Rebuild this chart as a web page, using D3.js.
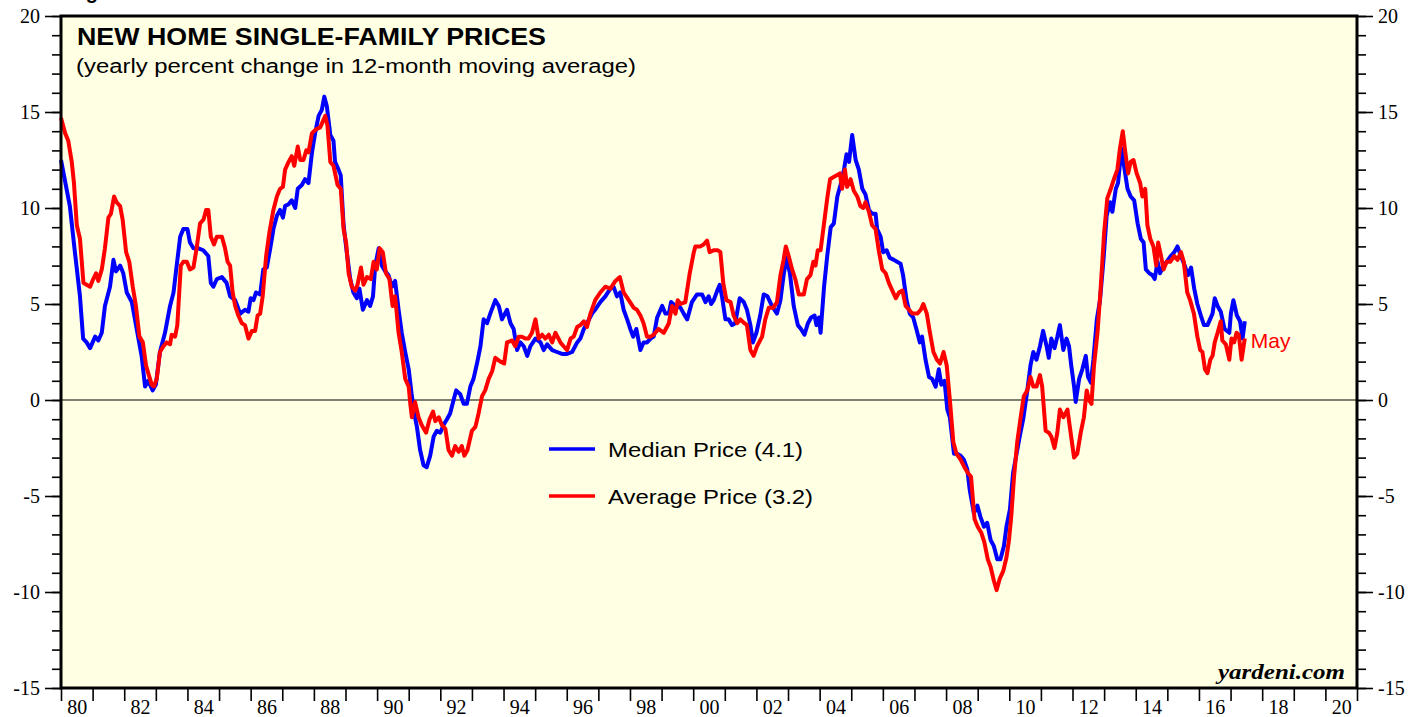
<!DOCTYPE html>
<html>
<head>
<meta charset="utf-8">
<script src="https://cdn.jsdelivr.net/npm/d3@7"></script>
<style>
  body { margin: 0; background: #ffffff; }
  svg { display: block; }
</style>
</head>
<body>
<div id="chart"></div>
<script>
// New home single-family prices, yearly % change in 12-month moving average
// points are [decimal year, percent]
const medianPrice = [
  [1980.00, 12.5], [1980.28, 10.1], [1980.44, 7.7], [1980.60, 5.4], [1980.70, 3.2], [1980.81, 3.0],
  [1980.92, 2.7], [1981.08, 3.3], [1981.18, 3.1], [1981.29, 3.5], [1981.39, 4.9], [1981.55, 5.9],
  [1981.66, 7.3], [1981.74, 6.7], [1981.87, 7.0], [1981.97, 6.6], [1982.08, 5.6], [1982.24, 5.1],
  [1982.34, 4.2], [1982.45, 3.2], [1982.55, 2.3], [1982.66, 0.7], [1982.76, 1.0], [1982.90, 0.5],
  [1983.00, 0.8], [1983.13, 2.5], [1983.29, 3.5], [1983.45, 4.9], [1983.56, 5.6], [1983.66, 7.0],
  [1983.77, 8.5], [1983.87, 8.9], [1984.00, 8.9], [1984.08, 8.2], [1984.19, 7.9], [1984.35, 7.9],
  [1984.50, 7.8], [1984.66, 7.5], [1984.74, 6.1], [1984.82, 5.9], [1984.93, 6.3], [1985.09, 6.4],
  [1985.24, 6.1], [1985.35, 5.4], [1985.51, 5.2], [1985.67, 4.5], [1985.82, 4.7], [1985.93, 4.6],
  [1986.00, 5.3], [1986.09, 5.2], [1986.17, 5.6], [1986.30, 5.5], [1986.40, 6.8], [1986.51, 6.9],
  [1986.62, 7.9], [1986.72, 8.9], [1986.83, 9.6], [1986.93, 9.9], [1987.02, 9.5], [1987.09, 10.1],
  [1987.20, 10.2], [1987.30, 10.4], [1987.41, 10.0], [1987.49, 11.0], [1987.62, 11.2], [1987.72, 11.5],
  [1987.83, 11.3], [1987.94, 12.9], [1988.04, 13.9], [1988.15, 14.8], [1988.25, 15.1], [1988.33, 15.8],
  [1988.41, 15.3], [1988.52, 13.8], [1988.62, 13.5], [1988.67, 12.4], [1988.78, 12.0], [1988.85, 11.7],
  [1988.94, 9.1], [1989.04, 7.7], [1989.15, 6.3], [1989.25, 5.6], [1989.36, 5.3], [1989.44, 5.8],
  [1989.55, 4.7], [1989.68, 5.2], [1989.78, 4.9], [1989.87, 5.4], [1989.94, 7.0], [1990.05, 7.9],
  [1990.15, 7.0], [1990.26, 6.7], [1990.36, 6.5], [1990.47, 5.9], [1990.57, 6.2], [1990.68, 4.7],
  [1990.78, 3.5], [1990.89, 2.5], [1991.00, 1.6], [1991.10, 0.2], [1991.20, -0.9], [1991.26, -1.4],
  [1991.36, -2.6], [1991.47, -3.4], [1991.57, -3.5], [1991.68, -2.9], [1991.79, -1.9], [1991.89, -1.6],
  [1992.00, -1.7], [1992.10, -1.3], [1992.21, -1.0], [1992.31, -0.7], [1992.42, 0.0], [1992.50, 0.5],
  [1992.63, 0.3], [1992.74, -0.2], [1992.84, -0.2], [1992.95, 0.7], [1993.05, 1.1], [1993.16, 1.9],
  [1993.27, 2.8], [1993.37, 4.2], [1993.48, 4.0], [1993.58, 4.5], [1993.74, 5.2], [1993.85, 4.9],
  [1993.95, 4.2], [1994.11, 4.7], [1994.22, 4.0], [1994.32, 3.7], [1994.43, 2.6], [1994.53, 3.0],
  [1994.64, 2.8], [1994.75, 2.3], [1994.85, 2.8], [1995.01, 3.2], [1995.17, 3.0], [1995.27, 2.6],
  [1995.38, 2.9], [1995.54, 2.6], [1995.69, 2.5], [1995.85, 2.4], [1996.01, 2.4], [1996.17, 2.5],
  [1996.33, 3.0], [1996.43, 3.2], [1996.54, 3.7], [1996.64, 4.0], [1996.80, 4.5], [1996.90, 4.7],
  [1997.06, 5.1], [1997.22, 5.4], [1997.38, 5.8], [1997.48, 5.9], [1997.59, 5.4], [1997.69, 5.6],
  [1997.80, 4.7], [1997.91, 4.2], [1998.01, 3.7], [1998.10, 3.3], [1998.20, 3.7], [1998.33, 2.6],
  [1998.43, 3.0], [1998.54, 3.0], [1998.65, 3.2], [1998.75, 3.3], [1998.86, 4.3], [1999.02, 4.9],
  [1999.12, 4.5], [1999.23, 4.5], [1999.30, 5.1], [1999.44, 4.9], [1999.60, 4.8], [1999.70, 4.5],
  [1999.81, 4.2], [1999.96, 5.1], [2000.12, 5.5], [2000.28, 5.5], [2000.39, 5.1], [2000.49, 5.4],
  [2000.57, 5.0], [2000.65, 5.2], [2000.76, 5.7], [2000.84, 6.0], [2000.91, 5.4], [2001.02, 4.2],
  [2001.12, 4.2], [2001.23, 3.9], [2001.33, 4.0], [2001.47, 5.3], [2001.60, 5.1], [2001.70, 4.7],
  [2001.81, 3.9], [2001.89, 3.0], [2002.00, 3.5], [2002.12, 4.4], [2002.23, 5.5], [2002.35, 5.4],
  [2002.49, 4.9], [2002.65, 4.5], [2002.76, 5.2], [2002.86, 6.5], [2002.95, 7.4], [2003.06, 6.6],
  [2003.18, 4.9], [2003.31, 3.9], [2003.41, 3.7], [2003.52, 3.4], [2003.63, 4.0], [2003.73, 4.3],
  [2003.84, 4.4], [2003.90, 3.9], [2003.98, 4.3], [2004.03, 3.5], [2004.14, 5.9], [2004.24, 7.5],
  [2004.35, 9.0], [2004.45, 9.2], [2004.56, 10.6], [2004.66, 11.2], [2004.77, 12.0], [2004.85, 12.8],
  [2004.93, 12.4], [2005.03, 13.8], [2005.14, 12.5], [2005.24, 12.0], [2005.35, 11.0], [2005.45, 10.7],
  [2005.56, 9.9], [2005.66, 9.7], [2005.77, 9.7], [2005.82, 8.9], [2005.93, 8.5], [2006.01, 7.7],
  [2006.12, 7.8], [2006.22, 7.4], [2006.35, 7.3], [2006.45, 7.2], [2006.56, 7.1], [2006.64, 6.5],
  [2006.75, 5.2], [2006.85, 4.5], [2006.96, 4.3], [2007.06, 3.7], [2007.17, 3.0], [2007.24, 3.3],
  [2007.35, 2.1], [2007.46, 1.2], [2007.56, 1.1], [2007.67, 0.7], [2007.77, 1.6], [2007.85, 0.8],
  [2007.95, 1.0], [2008.04, -0.5], [2008.12, -0.9], [2008.25, -2.8], [2008.35, -2.8], [2008.46, -2.9],
  [2008.56, -3.1], [2008.67, -3.6], [2008.75, -4.7], [2008.88, -5.9], [2008.99, -5.5], [2009.09, -6.1],
  [2009.20, -6.6], [2009.30, -6.4], [2009.41, -7.3], [2009.51, -7.6], [2009.62, -8.3], [2009.72, -8.3],
  [2009.83, -7.6], [2009.91, -6.6], [2010.02, -5.7], [2010.12, -3.8], [2010.23, -2.8], [2010.33, -1.9],
  [2010.44, -1.0], [2010.57, 0.5], [2010.67, 1.8], [2010.76, 2.5], [2010.86, 2.1], [2010.97, 2.8],
  [2011.07, 3.6], [2011.18, 2.8], [2011.25, 2.2], [2011.33, 3.2], [2011.43, 2.7], [2011.52, 3.3],
  [2011.60, 3.9], [2011.71, 2.6], [2011.81, 3.2], [2011.89, 2.8], [2011.96, 1.8], [2012.05, 0.7],
  [2012.10, -0.1], [2012.21, 1.1], [2012.31, 1.6], [2012.42, 2.3], [2012.49, 1.2], [2012.58, 0.9],
  [2012.66, 2.1], [2012.77, 4.2], [2012.87, 5.2], [2012.98, 7.3], [2013.08, 9.6], [2013.19, 10.3],
  [2013.26, 9.8], [2013.37, 11.0], [2013.44, 11.3], [2013.55, 13.1], [2013.63, 12.2], [2013.74, 11.0],
  [2013.84, 10.6], [2013.95, 10.4], [2014.06, 9.2], [2014.16, 8.4], [2014.25, 8.2], [2014.32, 6.8],
  [2014.43, 6.6], [2014.53, 6.5], [2014.60, 6.3], [2014.69, 7.2], [2014.77, 6.6], [2014.88, 7.0],
  [2014.98, 7.2], [2015.11, 7.5], [2015.22, 7.7], [2015.32, 8.0], [2015.43, 7.5], [2015.55, 7.0],
  [2015.65, 6.5], [2015.75, 6.9], [2015.85, 5.8], [2015.95, 5.0], [2016.06, 4.4], [2016.16, 3.9],
  [2016.27, 3.9], [2016.43, 4.5], [2016.50, 5.3], [2016.59, 4.9], [2016.69, 4.6], [2016.81, 3.7],
  [2016.96, 3.5], [2017.01, 4.5], [2017.09, 5.2], [2017.20, 4.4], [2017.30, 4.1], [2017.38, 3.2],
  [2017.45, 4.1]
];

const averagePrice = [
  [1980.00, 14.7], [1980.13, 13.9], [1980.23, 13.5], [1980.34, 12.4], [1980.41, 11.3], [1980.50, 9.1],
  [1980.60, 8.4], [1980.71, 6.1], [1980.81, 6.0], [1980.92, 5.9], [1981.02, 6.3], [1981.11, 6.6],
  [1981.18, 6.2], [1981.29, 6.8], [1981.39, 7.9], [1981.50, 9.5], [1981.58, 9.7], [1981.68, 10.6],
  [1981.76, 10.3], [1981.87, 10.1], [1981.95, 9.4], [1982.06, 7.7], [1982.16, 7.2], [1982.27, 5.9],
  [1982.37, 4.9], [1982.48, 3.3], [1982.59, 3.0], [1982.69, 1.8], [1982.76, 1.4], [1982.87, 0.8],
  [1982.94, 0.7], [1983.03, 1.1], [1983.13, 2.5], [1983.24, 2.8], [1983.34, 3.0], [1983.45, 2.9],
  [1983.50, 3.4], [1983.61, 3.3], [1983.68, 3.9], [1983.79, 7.0], [1983.87, 7.2], [1983.98, 7.2],
  [1984.08, 6.8], [1984.19, 6.9], [1984.29, 7.9], [1984.40, 9.2], [1984.51, 9.4], [1984.59, 9.9],
  [1984.66, 9.9], [1984.74, 8.5], [1984.84, 8.1], [1984.93, 8.5], [1985.09, 8.5], [1985.19, 7.9],
  [1985.27, 7.2], [1985.35, 7.0], [1985.43, 5.6], [1985.51, 4.9], [1985.61, 4.4], [1985.72, 4.0],
  [1985.82, 3.9], [1985.93, 3.2], [1986.04, 3.6], [1986.14, 3.6], [1986.22, 4.4], [1986.30, 4.5],
  [1986.38, 5.4], [1986.49, 7.5], [1986.59, 8.7], [1986.72, 9.9], [1986.83, 10.6], [1986.93, 11.0],
  [1987.02, 11.1], [1987.09, 12.0], [1987.20, 12.4], [1987.30, 12.7], [1987.38, 12.2], [1987.49, 13.2],
  [1987.57, 12.5], [1987.67, 12.5], [1987.76, 13.0], [1987.83, 12.9], [1987.94, 13.9], [1988.07, 14.1],
  [1988.20, 14.2], [1988.28, 14.5], [1988.36, 14.8], [1988.43, 14.3], [1988.52, 12.4], [1988.62, 12.2],
  [1988.75, 11.2], [1988.85, 11.0], [1988.94, 8.9], [1989.02, 8.2], [1989.10, 6.6], [1989.20, 5.9],
  [1989.31, 5.7], [1989.38, 6.0], [1989.49, 6.9], [1989.57, 6.0], [1989.68, 6.4], [1989.80, 6.3],
  [1989.89, 7.2], [1989.99, 6.8], [1990.08, 7.9], [1990.18, 7.7], [1990.28, 6.6], [1990.39, 6.3],
  [1990.49, 4.9], [1990.57, 5.4], [1990.68, 3.5], [1990.78, 2.5], [1990.89, 1.1], [1991.00, 0.7],
  [1991.05, -0.2], [1991.10, -0.9], [1991.20, -0.1], [1991.31, -0.9], [1991.41, -1.3], [1991.55, -1.7],
  [1991.66, -1.0], [1991.77, -0.6], [1991.84, -1.1], [1991.95, -0.9], [1992.05, -1.3], [1992.16, -1.5],
  [1992.26, -2.6], [1992.37, -2.9], [1992.47, -2.4], [1992.58, -2.7], [1992.68, -2.4], [1992.76, -2.9],
  [1992.86, -2.6], [1993.00, -1.6], [1993.11, -1.4], [1993.21, -0.7], [1993.32, 0.2], [1993.42, 0.5],
  [1993.53, 1.1], [1993.64, 1.5], [1993.74, 2.2], [1993.90, 2.0], [1994.02, 1.9], [1994.11, 3.0],
  [1994.27, 3.1], [1994.37, 2.8], [1994.48, 3.3], [1994.58, 3.3], [1994.69, 3.2], [1994.79, 3.2],
  [1994.90, 3.5], [1995.01, 4.2], [1995.11, 3.2], [1995.22, 3.4], [1995.32, 3.2], [1995.43, 3.4],
  [1995.54, 3.0], [1995.64, 3.5], [1995.80, 3.0], [1995.90, 2.8], [1996.01, 2.6], [1996.12, 3.2],
  [1996.22, 3.3], [1996.33, 3.8], [1996.43, 3.9], [1996.54, 4.1], [1996.64, 3.8], [1996.75, 4.5],
  [1996.90, 5.2], [1997.06, 5.6], [1997.22, 5.9], [1997.38, 5.8], [1997.54, 6.2], [1997.68, 6.4],
  [1997.80, 5.6], [1997.96, 5.2], [1998.12, 4.8], [1998.22, 4.7], [1998.33, 4.4], [1998.43, 4.0],
  [1998.54, 3.3], [1998.65, 3.3], [1998.75, 3.4], [1998.90, 3.7], [1999.07, 3.5], [1999.23, 4.0],
  [1999.33, 4.9], [1999.44, 4.5], [1999.51, 5.2], [1999.60, 5.0], [1999.75, 5.1], [1999.89, 6.6],
  [2000.02, 7.7], [2000.07, 8.0], [2000.23, 8.0], [2000.33, 8.1], [2000.44, 8.3], [2000.52, 7.7],
  [2000.65, 7.8], [2000.78, 7.8], [2000.86, 7.7], [2000.95, 6.1], [2001.05, 5.2], [2001.18, 5.1],
  [2001.28, 4.4], [2001.39, 4.0], [2001.49, 4.2], [2001.62, 4.0], [2001.70, 3.9], [2001.81, 2.6],
  [2001.91, 2.3], [2002.02, 2.8], [2002.18, 3.3], [2002.28, 4.2], [2002.39, 4.8], [2002.53, 4.8],
  [2002.65, 5.1], [2002.76, 6.5], [2002.86, 7.3], [2002.93, 8.0], [2003.02, 7.5], [2003.13, 6.8],
  [2003.23, 6.3], [2003.34, 5.5], [2003.50, 5.5], [2003.60, 6.3], [2003.71, 6.5], [2003.80, 7.2],
  [2003.87, 7.0], [2003.94, 7.8], [2004.03, 7.8], [2004.14, 9.2], [2004.24, 10.5], [2004.33, 11.5],
  [2004.43, 11.6], [2004.54, 11.7], [2004.64, 11.8], [2004.71, 11.0], [2004.80, 12.0], [2004.87, 11.1],
  [2004.98, 11.5], [2005.08, 10.9], [2005.19, 10.6], [2005.29, 10.1], [2005.38, 10.0], [2005.45, 10.3],
  [2005.56, 9.8], [2005.66, 9.1], [2005.77, 8.9], [2005.87, 7.8], [2005.98, 6.8], [2006.09, 6.6],
  [2006.19, 6.1], [2006.30, 5.7], [2006.41, 5.3], [2006.51, 5.6], [2006.62, 5.7], [2006.72, 4.9],
  [2006.83, 4.7], [2006.93, 4.5], [2007.09, 4.5], [2007.20, 4.7], [2007.28, 5.0], [2007.39, 4.5],
  [2007.49, 3.5], [2007.60, 2.5], [2007.71, 2.1], [2007.81, 1.9], [2007.92, 2.5], [2008.02, 1.8],
  [2008.12, 0.0], [2008.23, -2.2], [2008.33, -2.8], [2008.46, -3.1], [2008.58, -3.5], [2008.69, -3.8],
  [2008.79, -4.0], [2008.90, -6.2], [2009.00, -6.6], [2009.11, -6.9], [2009.21, -7.4], [2009.32, -8.3],
  [2009.41, -8.7], [2009.51, -9.4], [2009.60, -9.9], [2009.70, -9.3], [2009.81, -8.9], [2009.91, -8.2],
  [2009.99, -7.3], [2010.06, -6.1], [2010.15, -4.0], [2010.25, -2.2], [2010.36, -0.9], [2010.46, 0.2],
  [2010.57, 0.5], [2010.67, 1.2], [2010.76, 0.7], [2010.86, 0.7], [2010.97, 1.3], [2011.04, 0.7],
  [2011.15, -1.6], [2011.25, -1.7], [2011.33, -1.9], [2011.43, -2.5], [2011.52, -1.7], [2011.60, -0.5],
  [2011.71, -0.9], [2011.84, -0.5], [2011.94, -1.7], [2012.05, -3.0], [2012.15, -2.8], [2012.26, -1.7],
  [2012.36, -0.9], [2012.45, 0.5], [2012.52, 0.0], [2012.60, -0.2], [2012.68, 1.8], [2012.79, 3.5],
  [2012.89, 5.8], [2013.00, 8.7], [2013.10, 10.5], [2013.21, 11.0], [2013.31, 11.5], [2013.42, 12.0],
  [2013.50, 13.1], [2013.59, 14.0], [2013.67, 12.9], [2013.76, 11.8], [2013.84, 12.4], [2013.93, 12.5],
  [2014.03, 11.8], [2014.14, 11.3], [2014.21, 10.6], [2014.30, 11.0], [2014.37, 9.1], [2014.46, 8.4],
  [2014.56, 8.0], [2014.65, 7.0], [2014.71, 8.2], [2014.80, 7.5], [2014.88, 6.8], [2014.98, 7.2],
  [2015.09, 7.2], [2015.22, 7.5], [2015.32, 7.3], [2015.43, 7.7], [2015.52, 7.2], [2015.63, 5.6],
  [2015.72, 5.2], [2015.84, 4.5], [2015.95, 3.3], [2016.04, 2.6], [2016.11, 2.5], [2016.19, 1.6],
  [2016.27, 1.4], [2016.36, 2.1], [2016.43, 2.3], [2016.50, 3.0], [2016.59, 3.5], [2016.69, 4.1],
  [2016.74, 3.1], [2016.85, 2.9], [2016.96, 2.1], [2017.03, 3.2], [2017.11, 3.0], [2017.19, 3.5],
  [2017.26, 3.4], [2017.35, 2.1], [2017.45, 3.2]
];

const yearTicks = d3.range(1980, 2022);
const labelYears = d3.range(1980, 2021, 2);
const yearLabels = ["80", "82", "84", "86", "88", "90", "92", "94", "96", "98", "00",
                    "02", "04", "06", "08", "10", "12", "14", "16", "18", "20"];
const valueTicks = [-15, -10, -5, 0, 5, 10, 15, 20];
const minorValueTicks = d3.range(-15, 21, 1);
const seriesNames = ["Median Price (4.1)", "Average Price (3.2)"];
const chartTitle = "NEW HOME SINGLE-FAMILY PRICES";
const chartSubtitle = "(yearly percent change in 12-month moving average)";

const colors = ["#0000ff", "#ff0000"];
const sans = "'Liberation Sans', Arial, Helvetica, sans-serif";
const serif = "'Liberation Serif', 'Times New Roman', serif";

const width = 1427, height = 717;
const plotLeft = 61, plotRight = 1357, plotTop = 16, plotBottom = 688;

const svg = d3.select("#chart").append("svg")
  .attr("width", width)
  .attr("height", height);

const x = d3.scaleLinear().domain([1980, 2021]).range([plotLeft, plotRight]);
const y = d3.scaleLinear().domain([-15, 20]).range([plotBottom, plotTop]);

// figure caption, cut off by the top edge like in the original
svg.append("text")
  .attr("x", 68).attr("y", -1)
  .style("font-family", sans).style("font-weight", "bold").style("font-size", "20px")
  .text("Figure 3.");

// plot background
svg.append("rect")
  .attr("x", plotLeft).attr("y", plotTop)
  .attr("width", plotRight - plotLeft).attr("height", plotBottom - plotTop)
  .attr("fill", "#ffffe4");

// zero line
svg.append("line")
  .attr("x1", plotLeft).attr("x2", plotRight)
  .attr("y1", y(0)).attr("y2", y(0))
  .attr("stroke", "#000").attr("stroke-width", 1.2);

// series
const line = d3.line()
  .x(d => x(d[0]))
  .y(d => y(d[1]));

[medianPrice, averagePrice].forEach((series, i) => {
  svg.append("path")
    .datum(series)
    .attr("fill", "none")
    .attr("stroke", colors[i])
    .attr("stroke-width", 4)
    .attr("stroke-linejoin", "round")
    .attr("d", line);
});

// axes
function styleAxis(g) {
  g.select(".domain").remove();
  g.selectAll(".tick line").attr("stroke", "#000").attr("stroke-width", 1.6);
  g.selectAll("text")
    .style("font-family", serif)
    .style("font-size", "20px")
    .attr("fill", "#000");
}

const plainNumber = d => String(d); // hyphen minus, as in the original

svg.append("g")
  .attr("transform", `translate(${plotLeft},0)`)
  .call(d3.axisLeft(y).tickValues(minorValueTicks).tickSize(9).tickFormat(""))
  .call(styleAxis);
svg.append("g")
  .attr("transform", `translate(${plotLeft},0)`)
  .call(d3.axisLeft(y).tickValues(valueTicks).tickSize(16).tickPadding(5).tickFormat(plainNumber))
  .call(styleAxis);

svg.append("g")
  .attr("transform", `translate(${plotRight},0)`)
  .call(d3.axisRight(y).tickValues(minorValueTicks).tickSize(9).tickFormat(""))
  .call(styleAxis);
svg.append("g")
  .attr("transform", `translate(${plotRight},0)`)
  .call(d3.axisRight(y).tickValues(valueTicks).tickSize(16).tickPadding(5).tickFormat(plainNumber))
  .call(styleAxis);

svg.append("g")
  .attr("transform", `translate(0,${plotBottom})`)
  .call(d3.axisBottom(x).tickValues(yearTicks).tickSize(13).tickFormat(""))
  .call(styleAxis);
svg.append("g")
  .attr("transform", `translate(0,${plotBottom})`)
  .call(d3.axisBottom(x).tickValues(labelYears.map(v => v + 0.5)).tickSize(0)
    .tickFormat((d, i) => yearLabels[i]))
  .call(styleAxis)
  .call(g => g.selectAll(".tick line").remove())
  .call(g => g.selectAll("text").attr("y", 26).attr("dy", 0));

// frame
svg.append("rect")
  .attr("x", plotLeft).attr("y", plotTop)
  .attr("width", plotRight - plotLeft).attr("height", plotBottom - plotTop)
  .attr("fill", "none")
  .attr("stroke", "#000")
  .attr("stroke-width", 3);

// title
svg.append("text")
  .attr("x", 77).attr("y", 45)
  .attr("textLength", 469).attr("lengthAdjust", "spacingAndGlyphs")
  .style("font-family", sans).style("font-weight", "bold").style("font-size", "23px")
  .text(chartTitle);
svg.append("text")
  .attr("x", 76).attr("y", 73)
  .attr("textLength", 560).attr("lengthAdjust", "spacingAndGlyphs")
  .style("font-family", sans).style("font-size", "20px")
  .text(chartSubtitle);

// legend
const legend = svg.append("g")
  .selectAll("g")
  .data(seriesNames)
  .join("g")
  .attr("transform", (d, i) => `translate(549,${449 + i * 47})`);
legend.append("line")
  .attr("x1", 0).attr("x2", 46)
  .attr("stroke", (d, i) => colors[i])
  .attr("stroke-width", 3.5);
legend.append("text")
  .attr("x", 59).attr("y", 7.5)
  .attr("textLength", (d, i) => i === 0 ? 195 : 205)
  .attr("lengthAdjust", "spacingAndGlyphs")
  .style("font-family", sans).style("font-size", "21px")
  .text(d => d);

// last month label
const lastAvg = averagePrice[averagePrice.length - 1];
svg.append("text")
  .attr("x", x(lastAvg[0]) + 6).attr("y", y(lastAvg[1]) + 9)
  .attr("fill", "#ff0000")
  .style("font-family", sans).style("font-size", "21px")
  .text("May");

// source
svg.append("text")
  .attr("x", 1218).attr("y", 679)
  .attr("textLength", 127).attr("lengthAdjust", "spacingAndGlyphs")
  .style("font-family", serif).style("font-style", "italic").style("font-weight", "bold")
  .style("font-size", "22px")
  .text("yardeni.com");
</script>
</body>
</html>
